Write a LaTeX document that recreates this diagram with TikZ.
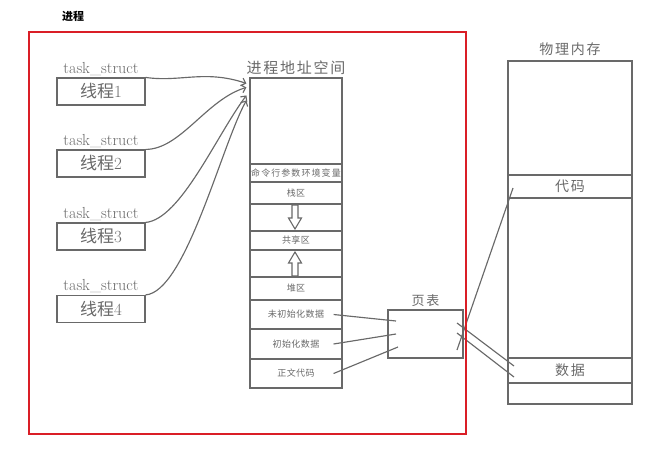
\documentclass[tikz,border=0pt]{standalone}
\usepackage{fontspec}
\newfontfamily\cjk{Noto Sans CJK SC}
\newfontfamily\cjks[LetterSpace=12]{Noto Sans CJK SC}
\newfontfamily\cjkx[LetterSpace=5]{Noto Sans CJK SC}
\usetikzlibrary{positioning,arrows.meta}
\definecolor{hui}{RGB}{105,105,105}
\definecolor{hong}{RGB}{218,30,38}
\begin{document}
\begin{tikzpicture}[x=1pt,y=-1pt,line width=1.15pt,color=hui,
 xc/.style={draw,minimum width=88pt,minimum height=27pt,inner sep=0pt,font=\fontsize{17}{17}\selectfont},
 qu/.style={draw,minimum width=92pt,inner sep=0pt,font=\cjkx\fontsize{9}{9}\selectfont},
 nc/.style={draw,minimum width=124pt,inner sep=0pt,font=\cjks\fontsize{14}{14}\selectfont},
 kong/.pic={\draw[line width=1.1pt] (-3,-12)--(3,-12)--(3,1)--(6.5,1)--(0,12)--(-6.5,1)--(-3,1)--cycle;}]
\useasboundingbox (0,0) rectangle (650,453);
\node[font=\cjk\bfseries\fontsize{11}{11}\selectfont,text=black] (jc) at (73,16) {进程};
\foreach \i/\y in {1/91.5,2/163.5,3/236.5,4/309} {
 \node[xc] (t\i) at (101,\y) {{\cjk 线程}\i};
 \node[font=\fontsize{16}{16}\selectfont,above=-2pt of t\i] (ts\i) {task\_struct};
}
\node[qu,minimum height=86pt] (as) at (296,121) {};
\node[above=-1pt of as,font=\cjks\fontsize{15}{15}\selectfont] (dz) {进程地址空间};
\foreach \n/\t/\a/\b in {hj/{\cjks 命令行参数环境变量}/164/182, zq/栈区/182/204, k1//204/231, gx/共享区/231/250, k2//250/277, dq/堆区/277/300, wc/未初始化数据/300/329, cs/初始化数据/329/359, zw/正文代码/359/388}
 \node[qu,minimum height=\b-\a] (\n) at (296,{(\a+\b)/2}) {\t};
\pic at (295,217) {kong};
\pic[rotate=180] at (295,264) {kong};
\foreach \i/\e/\a/\b/\c/\d in {1/6/35/5/-42/-14, 2/10/35/0/-40/12, 3/18/35/-3/-30/40, 4/23/40/-3/-25/45}
 \draw[-{Straight Barb[length=4pt,width=8pt]}] (t\i.north east) .. controls +(\a,\b) and +(\c,\d) .. ([shift={(-3,\e)}]as.north west);
\node[draw,minimum width=75pt,minimum height=48pt] (yb) at (425.5,334) {};
\node[above=-1pt of yb,font=\cjks\fontsize{13}{13}\selectfont] (ybt) {页表};
\coordinate (y1) at (396,321); \coordinate (y2) at (396,334); \coordinate (y3) at (398,347);
\foreach \d/\dd in {wc/y1, cs/y2, zw/y3}
 \draw ([xshift=-9pt]\d.east) -- (\dd);
\node[nc,minimum height=343pt] (wl) at (570,232.5) {};
\node[above=1pt of wl,font=\cjks\fontsize{14}{14}\selectfont] (wlt) {物理内存};
\node[nc,minimum height=23pt] (dm) at (570,186.5) {代码};
\node[nc,minimum height=25pt] (sj) at (570,370.5) {数据};
\coordinate (r1) at (457,323); \coordinate (r2) at (457,333); \coordinate (r3) at (457,350);
\coordinate (m1) at (514,366); \coordinate (m2) at (514,377); \coordinate (m3) at (513,188);
\foreach \d/\dd in {r1/m1, r2/m2, r3/m3}
 \draw (\d) -- (\dd);
\draw[hong,line width=2pt] (29,32) rectangle (466,434);
\end{tikzpicture}
\end{document}
